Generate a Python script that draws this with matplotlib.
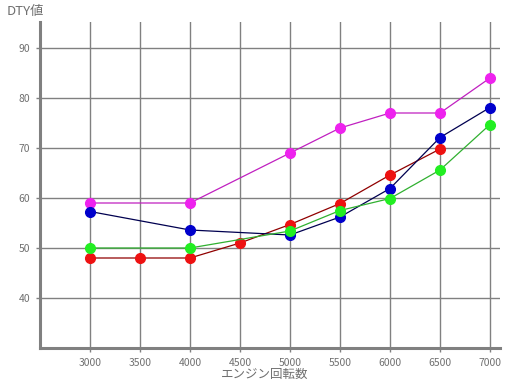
import matplotlib
matplotlib.use("Agg")
import matplotlib.pyplot as plt

plt.rcParams['font.family'] = ['Noto Sans CJK JP', 'DejaVu Sans']

rpm_magenta = [3000, 4000, 5000, 5500, 6000, 6500, 7000]
dty_magenta = [59, 59, 69, 74, 77, 77, 84]

rpm_blue = [3000, 4000, 5000, 5500, 6000, 6500, 7000]
dty_blue = [57.3, 53.6, 52.6, 56.2, 61.9, 72.1, 78.1]

rpm_red = [3000, 3500, 4000, 4500, 5000, 5500, 6000, 6500]
dty_red = [48, 48, 48, 51, 54.7, 58.9, 64.6, 69.8]

rpm_green = [3000, 4000, 5000, 5500, 6000, 6500, 7000]
dty_green = [50, 50, 53.4, 57.5, 59.9, 65.6, 74.7]

x_ticks = [3000, 3500, 4000, 4500, 5000, 5500, 6000, 6500, 7000]
y_ticks = [40, 50, 60, 70, 80, 90]
x_label = "エンジン回転数"
y_label = "DTY値"

fig = plt.figure(figsize=(5.12, 3.84), dpi=100)
ax = fig.add_axes([40/512, 1 - 348/384, 460/512, 326/384])

grid_c = '#808080'
ax.set_xlim(2500, 7100)
ax.set_ylim(30, 95.2)
ax.set_xticks(x_ticks)
ax.set_yticks(y_ticks)
ax.grid(True, color=grid_c, linewidth=1.0)
ax.set_axisbelow(True)

for s in ['top', 'right']:
    ax.spines[s].set_visible(False)
for s in ['left', 'bottom']:
    ax.spines[s].set_color(grid_c)
    ax.spines[s].set_linewidth(2.2)

ax.tick_params(axis='both', colors=grid_c, length=3, width=1.0, labelsize=7.5,
               labelcolor='#707070', pad=4)

ms = 7
ax.plot(rpm_magenta, dty_magenta, color='#c020c0', lw=0.9, marker='o', ms=ms,
        mfc='#ee22ee', mec='#ee22ee', zorder=3)
ax.plot(rpm_red, dty_red, color='#900000', lw=0.9, marker='o', ms=ms,
        mfc='#ee1111', mec='#ee1111', zorder=4)
ax.plot(rpm_blue, dty_blue, color='#000050', lw=0.9, marker='o', ms=ms,
        mfc='#0000cc', mec='#0000cc', zorder=5)
ax.plot(rpm_green, dty_green, color='#30b030', lw=0.9, marker='o', ms=ms,
        mfc='#22ee22', mec='#22ee22', zorder=6)

fig.text(265/512, 1 - 374/384, x_label, ha='center', va='center',
         fontsize=9, color='#707070')
fig.text(7/512, 1 - 12/384, y_label, ha='left', va='center',
         fontsize=9.5, color='#707070')

fig.savefig('out.png', dpi=100, facecolor='white')
